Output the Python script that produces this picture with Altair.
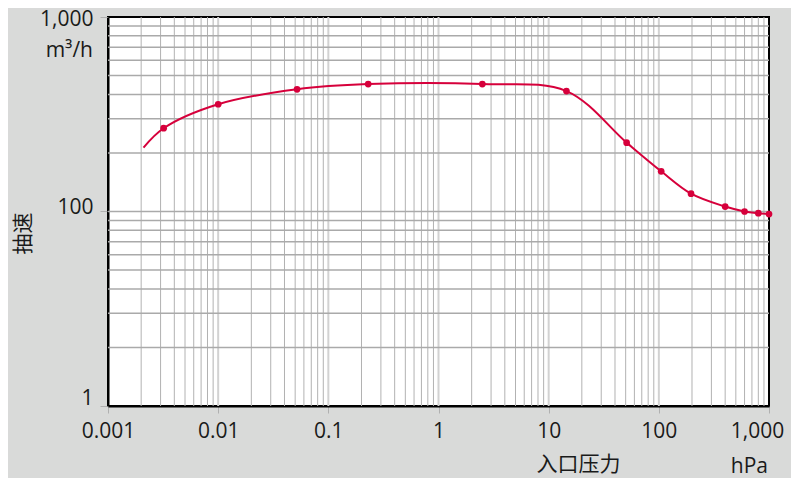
import altair as alt
import pandas as pd

# pumping speed curve
x_pts = [0.0032, 0.01, 0.052, 0.23, 2.5, 14.5, 51, 105, 196, 400, 600, 800, 1000]
y_pts = [268, 356, 425, 452, 452, 416, 226, 161, 123.5, 106, 100, 98, 97]
line_start_x = [0.0021]
line_start_y = [213]

x_ticks = [0.001, 0.01, 0.1, 1, 10, 100, 1000]
x_tick_labels = ["0.001", "0.01", "0.1", "1", "10", "100", "1,000"]
y_ticks = [10, 100, 1000]
y_tick_labels = ["1", "100", "1,000"]

x_decades = [0.001, 0.01, 0.1, 1, 10, 100]
x_grid = [round(m * d, 6) for d in x_decades for m in range(2, 10)]
x_grid_decade = [0.01, 0.1, 1, 10, 100]
y_grid = [m * d for d in [10, 100] for m in range(2, 10)] + [100]

RED = "#d6003b"
FONT = "'Open Sans', 'Noto Sans CJK SC', sans-serif"
TXT = "#1a1a1a"
FS = 21


def label_expr(vals, labels):
    expr = "'" + labels[-1] + "'"
    for v, l in reversed(list(zip(vals[:-1], labels[:-1]))):
        expr = f"datum.value < {v * 1.5} ? '{l}' : " + expr
    return expr


xscale = alt.Scale(type="log", domain=[0.001, 1000], nice=False)
yscale = alt.Scale(type="log", domain=[10, 1000], nice=False)

xaxis = alt.Axis(
    values=x_ticks, labelExpr=label_expr(x_ticks, x_tick_labels), grid=False,
    tickSize=7, tickColor="#b0b0b0", tickWidth=1,
    domainColor="black", domainWidth=2,
    labelFontSize=FS, labelFont=FONT, labelColor=TXT, labelPadding=7,
    labelOffset={"condition": {"test": "datum.value > 500", "value": -12}, "value": 0},
    labelFlush=False, labelOverlap=False,
    title="入口压力", titleFont=FONT, titleFontSize=FS, titleFontWeight="normal",
    titleColor=TXT, titleX=470, titleY=64, titleBaseline="alphabetic", titleAlign="center",
)
yaxis = alt.Axis(
    values=y_ticks, labelExpr=label_expr(y_ticks, y_tick_labels), grid=False,
    tickSize=8, tickColor="#b0b0b0", tickWidth=1,
    domainColor="black", domainWidth=2,
    labelFontSize=FS, labelFont=FONT, labelColor=TXT, labelPadding=7,
    labelBaseline="middle",
    labelOffset={"condition": [{"test": "datum.value > 500", "value": 2},
                               {"test": "datum.value > 50", "value": -4}],
                 "value": -8},
    labelFlush=False, labelOverlap=False,
    title="抽速", titleFont=FONT, titleFontSize=FS, titleFontWeight="normal",
    titleColor=TXT, titleX=-85, titleY=216, titleAngle=270,
    titleAlign="center", titleBaseline="middle",
)

gx = alt.Chart(pd.DataFrame({"gx": x_grid})).mark_rule(
    color="#b2b2b2", strokeWidth=1
).encode(x=alt.X("gx:Q", scale=xscale, axis=xaxis))

gxd = alt.Chart(pd.DataFrame({"gx": x_grid_decade})).mark_rule(
    color="#d2d2d2", strokeWidth=2
).encode(x=alt.X("gx:Q", scale=xscale, axis=xaxis))

gy = alt.Chart(pd.DataFrame({"gy": y_grid})).mark_rule(
    color="#aaaaaa", strokeWidth=1.5
).encode(y=alt.Y("gy:Q", scale=yscale, axis=yaxis))

line_df = pd.DataFrame({"p": line_start_x + x_pts, "s": line_start_y + y_pts})
pts_df = pd.DataFrame({"p": x_pts, "s": y_pts})

line = alt.Chart(line_df).mark_line(
    color=RED, strokeWidth=2, interpolate="catmull-rom"
).encode(
    x=alt.X("p:Q", scale=xscale, axis=xaxis),
    y=alt.Y("s:Q", scale=yscale, axis=yaxis),
)

points = alt.Chart(pts_df).mark_circle(color=RED, size=45, opacity=1).encode(
    x=alt.X("p:Q", scale=xscale, axis=xaxis),
    y=alt.Y("s:Q", scale=yscale, axis=yaxis),
)

unit_y = alt.Chart(pd.DataFrame({"t": ["m³/h"]})).mark_text(
    align="right", baseline="alphabetic", fontSize=FS, font=FONT, color=TXT
).encode(text="t:N", x=alt.value(-15), y=alt.value(40))

unit_x = alt.Chart(pd.DataFrame({"t": ["hPa"]})).mark_text(
    align="right", baseline="alphabetic", fontSize=FS, font=FONT, color=TXT
).encode(text="t:N", x=alt.value(660), y=alt.value(456))

chart = alt.layer(gxd, gx, gy, line, points, unit_y, unit_x).properties(
    width=661, height=389,
    autosize=alt.AutoSizeParams(type="none"),
    padding={"left": 100, "top": 9, "right": 22, "bottom": 72},
    background="#d9dad9",
).configure_view(fill="white", stroke="black", strokeWidth=2)

chart.save("out.html", embed_options={"renderer": "svg", "actions": False})
